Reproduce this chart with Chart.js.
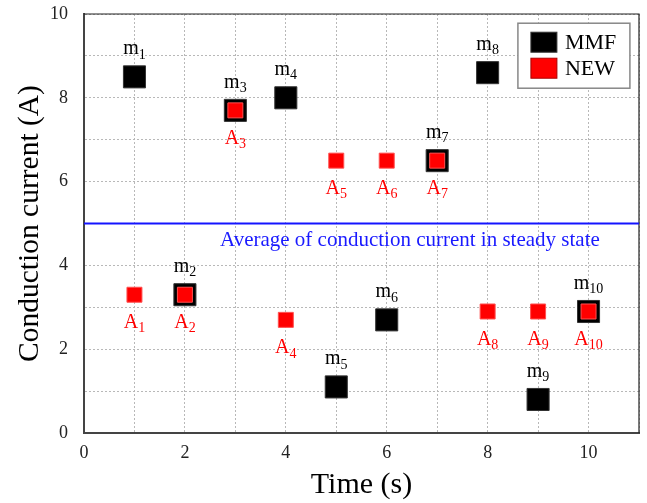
<!DOCTYPE html>
<html>
<head>
<meta charset="utf-8">
<script src="https://cdn.jsdelivr.net/npm/chart.js@4"></script>
<style>
  html, body { margin: 0; padding: 0; background: #fff; }
  #wrap { width: 647px; height: 503px; }
</style>
</head>
<body>
<div id="wrap"><canvas id="chart" width="647" height="503"></canvas></div>
<script>
const times = [1, 2, 3, 4, 5, 6, 7, 8, 9, 10];
const mmfValues = [8.5, 3.3, 7.7, 8.0, 1.1, 2.7, 6.5, 8.6, 0.8, 2.9];
const newValues = [3.3, 3.3, 7.7, 2.7, 6.5, 6.5, 6.5, 2.9, 2.9, 2.9];
const mmfLabels = ["1", "2", "3", "4", "5", "6", "7", "8", "9", "10"];
const newLabels = ["1", "2", "3", "4", "5", "6", "7", "8", "9", "10"];
const averageValue = 5;
const averageText = "Average of conduction current in steady state";
const seriesNames = ["MMF", "NEW"];

const SERIF = "'Liberation Serif', 'Times New Roman', serif";

function drawSubLabel(ctx, x, y, main, sub, color) {
  ctx.save();
  ctx.fillStyle = color;
  ctx.textBaseline = "middle";
  ctx.textAlign = "left";
  ctx.font = `20px ${SERIF}`;
  const w1 = ctx.measureText(main).width;
  ctx.font = `14px ${SERIF}`;
  const w2 = ctx.measureText(sub).width;
  const start = x - (w1 + w2) / 2;
  ctx.font = `20px ${SERIF}`;
  ctx.fillText(main, start, y);
  ctx.font = `14px ${SERIF}`;
  ctx.fillText(sub, start + w1, y + 6);
  ctx.restore();
}

const annotatePlugin = {
  id: "annotate",
  beforeDatasetsDraw(chart) {
    const { ctx, chartArea } = chart;
    ctx.save();
    ctx.strokeStyle = "#222";
    ctx.lineWidth = 1.2;
    ctx.beginPath();
    ctx.moveTo(chartArea.left, chartArea.top);
    ctx.lineTo(chartArea.right, chartArea.top);
    ctx.lineTo(chartArea.right, chartArea.bottom);
    ctx.stroke();
    ctx.restore();
  },
  afterDatasetsDraw(chart) {
    const { ctx, scales } = chart;
    const xs = scales.x, ys = scales.y;
    times.forEach((t, i) => {
      const px = xs.getPixelForValue(t);
      drawSubLabel(ctx, px, ys.getPixelForValue(mmfValues[i]) - 28, "m", mmfLabels[i], "#000");
      drawSubLabel(ctx, px, ys.getPixelForValue(newValues[i]) + 28, "A", newLabels[i], "#ff0000");
    });
    // average caption
    ctx.save();
    ctx.fillStyle = "#1a1aff";
    ctx.font = `21px ${SERIF}`;
    ctx.textAlign = "center";
    ctx.textBaseline = "middle";
    ctx.fillText(averageText, xs.getPixelForValue(6.46), ys.getPixelForValue(averageValue) + 17);
    ctx.restore();
    // legend box
    const lx = xs.getPixelForValue(8.6), ly = ys.getPixelForValue(9.78);
    ctx.save();
    ctx.fillStyle = "#fff";
    ctx.strokeStyle = "#888";
    ctx.lineWidth = 1.5;
    ctx.fillRect(lx, ly, 112, 65);
    ctx.strokeRect(lx, ly, 112, 65);
    const colors = ["#000", "#ff0000"];
    seriesNames.forEach((name, i) => {
      const ry = ly + 9 + i * 26;
      ctx.fillStyle = colors[i];
      ctx.fillRect(lx + 13, ry, 26, 20);
      ctx.strokeStyle = i === 0 ? "#333" : "#a00";
      ctx.lineWidth = 1;
      ctx.strokeRect(lx + 13, ry, 26, 20);
      ctx.fillStyle = "#000";
      ctx.font = `22px ${SERIF}`;
      ctx.textBaseline = "middle";
      ctx.textAlign = "left";
      ctx.fillText(name, lx + 47, ry + 11);
    });
    ctx.restore();
  },
};

const gridCommon = {
  color: "#b8b8b8",
  lineWidth: 1,
  drawTicks: false,
};

new Chart(document.getElementById("chart"), {
  type: "scatter",
  data: {
    datasets: [
      {
        label: "Average",
        type: "line",
        data: [{ x: 0, y: averageValue }, { x: 11, y: averageValue }],
        borderColor: "#1414ff",
        borderWidth: 2,
        pointRadius: 0,
        order: 3,
      },
      {
        label: seriesNames[0],
        data: times.map((t, i) => ({ x: t, y: mmfValues[i] })),
        pointStyle: "rect",
        pointRadius: 15.6,
        pointHoverRadius: 15.6,
        backgroundColor: "#000",
        borderColor: "#333",
        borderWidth: 1,
        order: 2,
      },
      {
        label: seriesNames[1],
        data: times.map((t, i) => ({ x: t, y: newValues[i] })),
        pointStyle: "rect",
        pointRadius: 10.6,
        pointHoverRadius: 10.6,
        backgroundColor: "#ff0000",
        borderColor: "#ff5050",
        borderWidth: 1,
        order: 1,
      },
    ],
  },
  options: {
    responsive: false,
    animation: false,
    layout: { autoPadding: false, padding: { top: 14, right: 8, left: 0, bottom: 0 } },
    plugins: { legend: { display: false }, tooltip: { enabled: false } },
    scales: {
      x: {
        type: "linear",
        min: 0,
        max: 11,
        afterFit: (scale) => {
          scale.height = 70;
          scale.paddingLeft = 0;
          scale.paddingRight = 0;
        },
        ticks: {
          stepSize: 1,
          padding: 9,
          color: "#222",
          font: { family: SERIF, size: 18 },
          callback: (v) => (v % 2 === 0 ? String(v) : ""),
          maxRotation: 0,
          autoSkip: false,
        },
        grid: gridCommon,
        border: { color: "#444", width: 2, dash: [2, 2] },
        title: {
          display: true,
          text: "Time (s)",
          color: "#000",
          font: { family: SERIF, size: 30 },
          padding: { top: 0, bottom: 0 },
        },
      },
      y: {
        type: "linear",
        min: 0,
        max: 10,
        afterFit: (scale) => {
          scale.width = 84;
          scale.paddingTop = 0;
          scale.paddingBottom = 0;
        },
        ticks: {
          stepSize: 1,
          padding: 16,
          color: "#222",
          font: { family: SERIF, size: 18 },
          callback: (v) => (v % 2 === 0 ? String(v) : ""),
          autoSkip: false,
        },
        grid: gridCommon,
        border: { color: "#444", width: 2, dash: [2, 2] },
        title: {
          display: true,
          text: "Conduction current (A)",
          color: "#000",
          font: { family: SERIF, size: 29.5 },
          padding: { top: 13, bottom: 0 },
        },
      },
    },
  },
  plugins: [annotatePlugin],
});
</script>
</body>
</html>
